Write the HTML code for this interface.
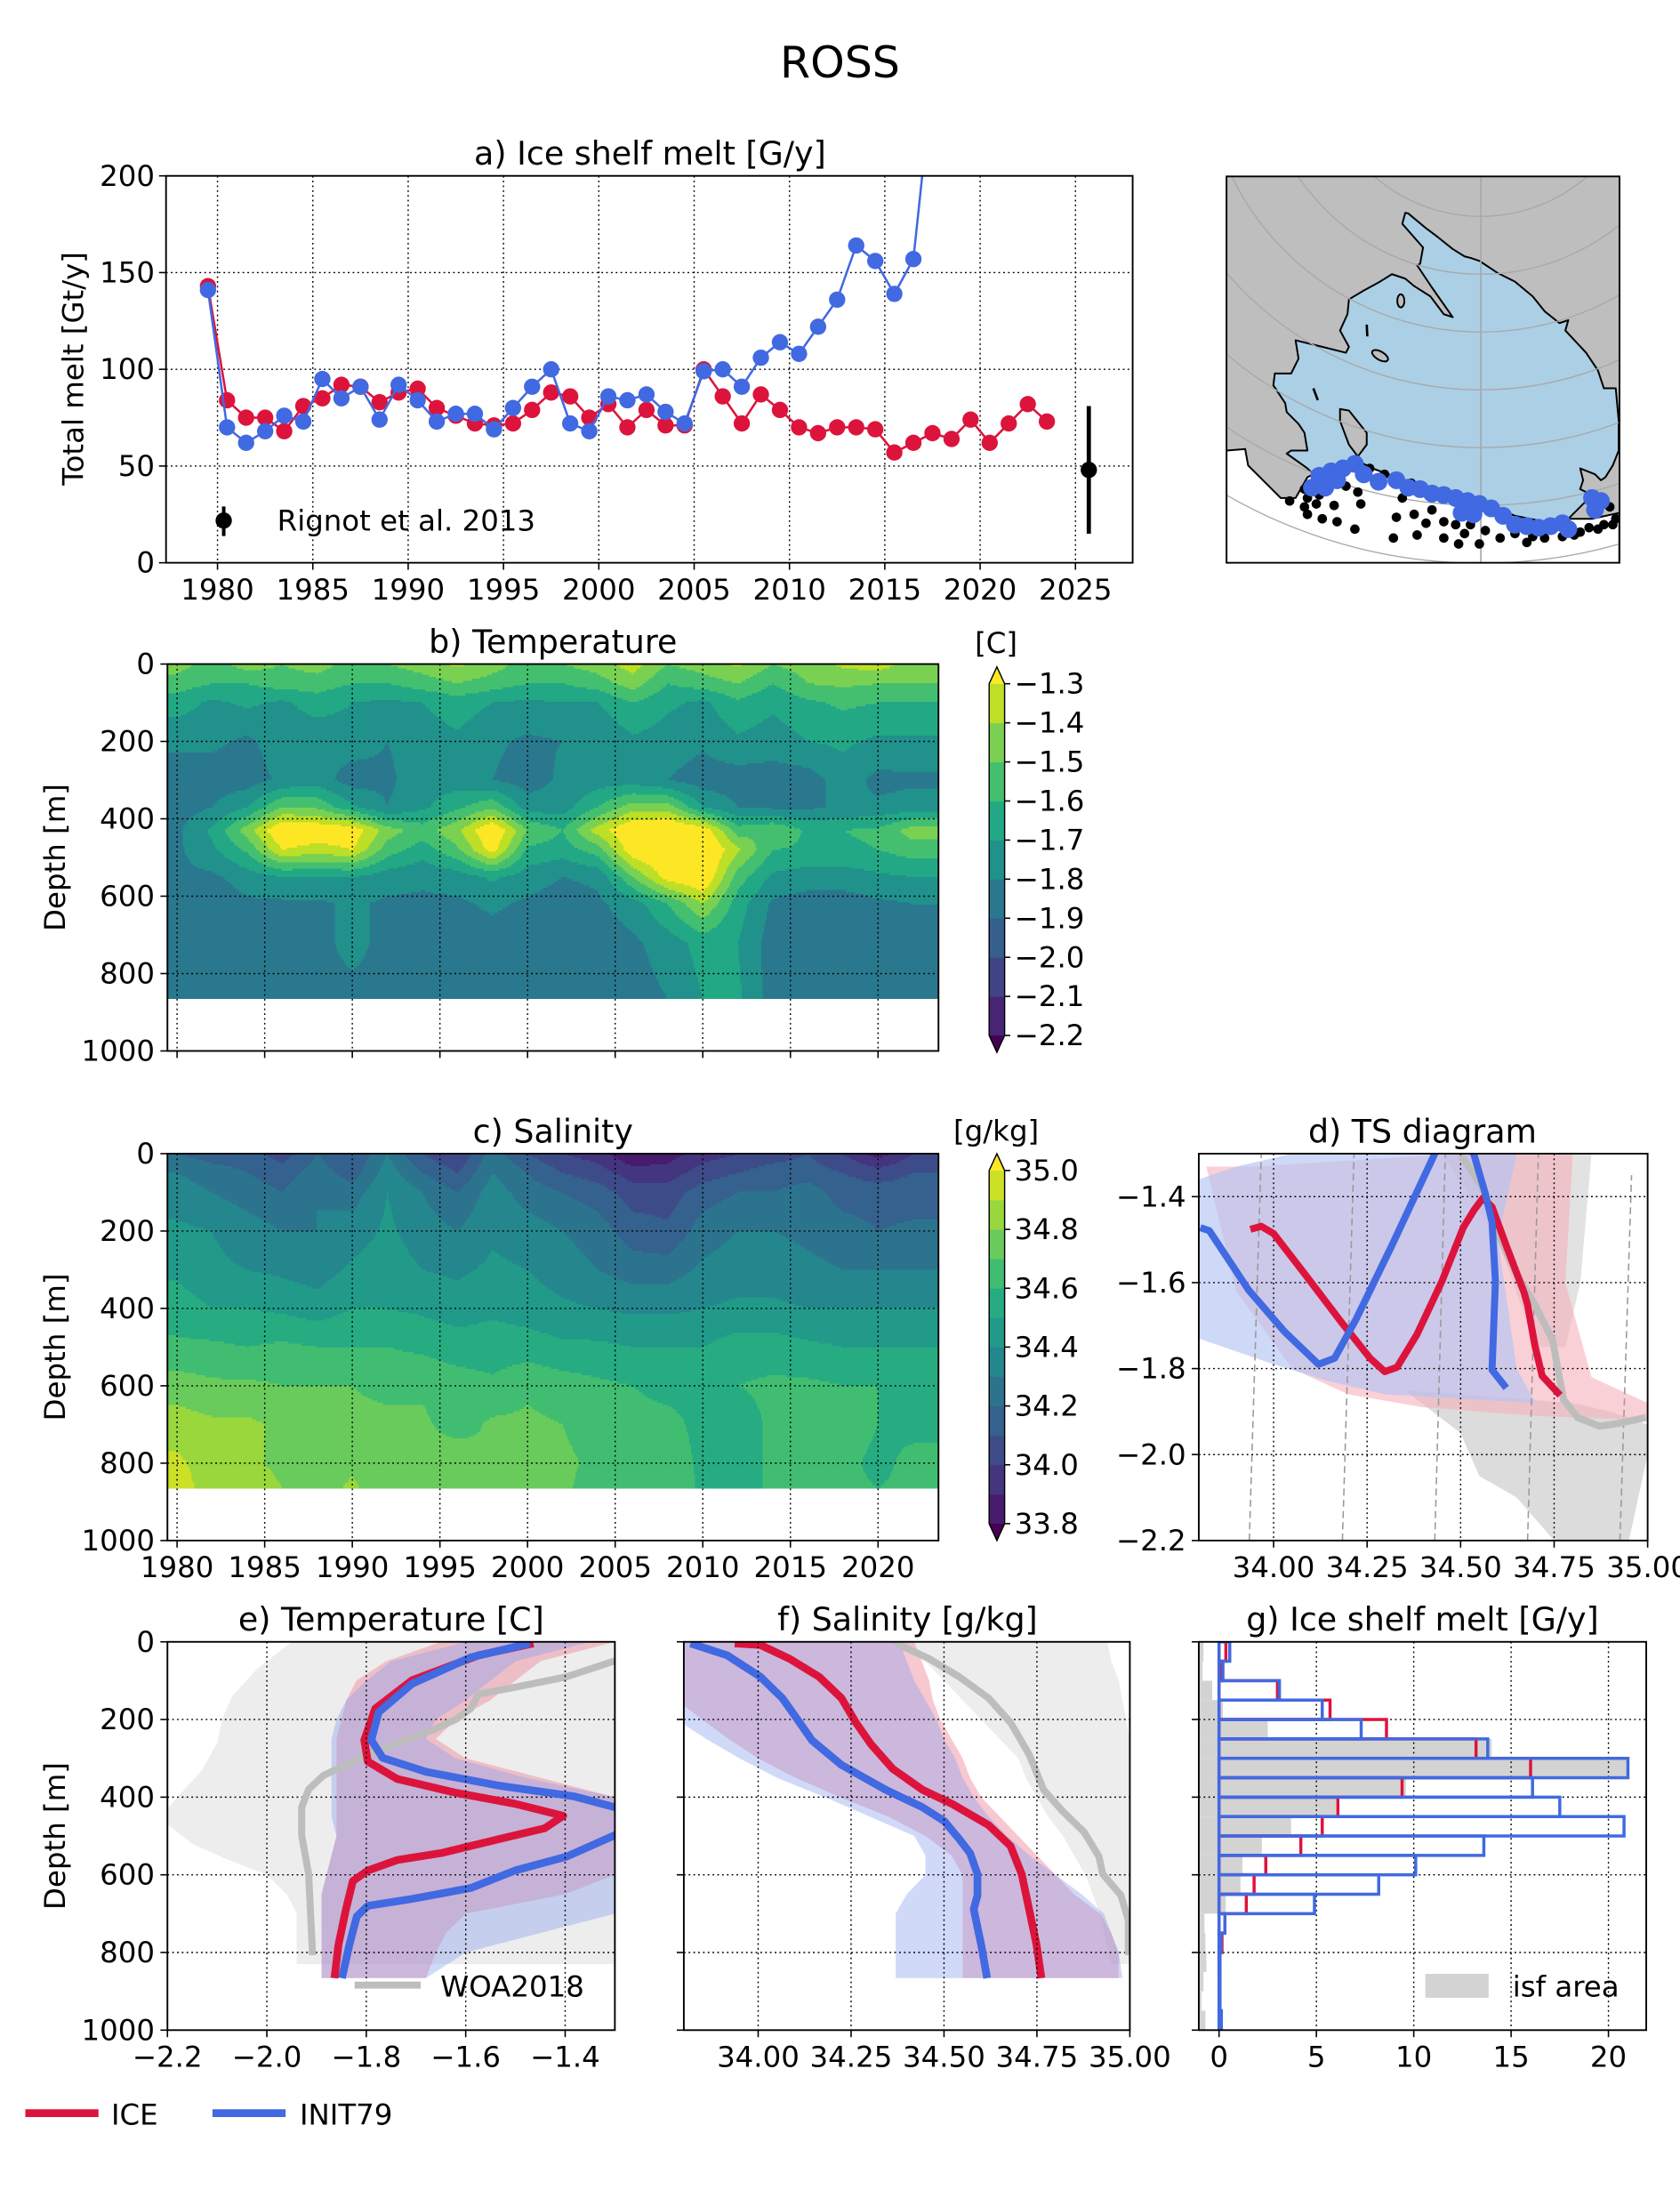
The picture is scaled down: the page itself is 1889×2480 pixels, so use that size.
<!DOCTYPE html>
<html><head><meta charset="utf-8"><title>ROSS</title>
<style>
html,body{margin:0;padding:0;background:#fff;}
svg{display:block;font-family:"DejaVu Sans","Liberation Sans",sans-serif;}
</style></head>
<body>
<svg id="fig" xmlns="http://www.w3.org/2000/svg" viewBox="0 0 1194 1568" width="1889" height="2480" preserveAspectRatio="none">
<rect x="0" y="0" width="1194" height="1568" fill="#fff"/>
<text x="597" y="55" font-size="31" text-anchor="middle">ROSS</text>
<defs>
<clipPath id="cpA"><rect x="118" y="125" width="687" height="275"/></clipPath>
<clipPath id="cpB"><rect x="119" y="472" width="548" height="275"/></clipPath>
<clipPath id="cpC"><rect x="119" y="820" width="548" height="275"/></clipPath>
<clipPath id="cpD"><rect x="852" y="820" width="319" height="275"/></clipPath>
<clipPath id="cpE"><rect x="119" y="1167" width="318" height="276"/></clipPath>
<clipPath id="cpF"><rect x="486" y="1167" width="317" height="276"/></clipPath>
<clipPath id="cpG"><rect x="852" y="1167" width="318" height="276"/></clipPath>
<clipPath id="cpM"><rect x="871.7" y="125.4" width="279.3" height="274.6"/></clipPath>
</defs>
</svg>
<script>
// ===== Panel a data =====
const meltYears = [1979.5,1980.5,1981.5,1982.5,1983.5,1984.5,1985.5,1986.5,1987.5,1988.5,1989.5,1990.5,1991.5,1992.5,1993.5,1994.5,1995.5,1996.5,1997.5,1998.5,1999.5,2000.5,2001.5,2002.5,2003.5,2004.5,2005.5,2006.5,2007.5,2008.5,2009.5,2010.5,2011.5,2012.5,2013.5,2014.5,2015.5,2016.5,2017.5,2018.5,2019.5,2020.5,2021.5,2022.5,2023.5];
const meltICE = [143,84,75,75,68,81,85,92,91,83,88,90,80,76,72,71,72,79,88,86,75,82,70,79,71,71,100,86,72,87,79,70,67,70,70,69,57,62,67,64,74,62,72,82,73];
const meltINIT79 = [141,70,62,68,76,73,95,85,91,74,92,84,73,77,77,69,80,91,100,72,68,86,84,87,78,72,99,100,91,106,114,108,122,136,164,156,139,157,250];
const rignotYear = 2025.7, rignotMelt = 48, rignotErr = 33;
const aYTicks = [0,50,100,150,200];
const aXTicks = [1980,1985,1990,1995,2000,2005,2010,2015,2020,2025];

// ===== Panel b/c data (Hovmoller) =====
const hovYears = [1980,1982,1984,1986,1988,1990,1992,1994,1996,1998,2000,2002,2004,2006,2008,2010,2012,2014,2016,2018,2020,2022];
const tempDepths = [0,50,100,200,300,370,430,480,550,620,720,866];
const tempVals = [
[-1.45,-1.55,-1.45,-1.5,-1.45,-1.55,-1.5,-1.45,-1.38,-1.45,-1.55,-1.5,-1.45,-1.35,-1.5,-1.45,-1.38,-1.5,-1.45,-1.38,-1.35,-1.45],
[-1.55,-1.6,-1.6,-1.55,-1.55,-1.6,-1.6,-1.55,-1.5,-1.55,-1.6,-1.6,-1.55,-1.45,-1.6,-1.55,-1.5,-1.6,-1.5,-1.48,-1.5,-1.5],
[-1.65,-1.72,-1.68,-1.72,-1.65,-1.7,-1.72,-1.7,-1.65,-1.7,-1.72,-1.7,-1.7,-1.6,-1.68,-1.72,-1.62,-1.68,-1.62,-1.58,-1.6,-1.6],
[-1.78,-1.78,-1.82,-1.75,-1.78,-1.75,-1.8,-1.75,-1.72,-1.78,-1.82,-1.8,-1.8,-1.72,-1.75,-1.78,-1.72,-1.75,-1.7,-1.68,-1.72,-1.72],
[-1.85,-1.85,-1.85,-1.78,-1.75,-1.85,-1.82,-1.75,-1.75,-1.8,-1.85,-1.78,-1.75,-1.75,-1.8,-1.85,-1.85,-1.85,-1.85,-1.75,-1.83,-1.82],
[-1.85,-1.8,-1.7,-1.5,-1.52,-1.68,-1.8,-1.72,-1.62,-1.52,-1.75,-1.75,-1.6,-1.45,-1.45,-1.7,-1.8,-1.82,-1.82,-1.78,-1.78,-1.75],
[-1.82,-1.68,-1.45,-1.18,-1.2,-1.22,-1.45,-1.55,-1.42,-1.18,-1.5,-1.6,-1.35,-1.18,-1.15,-1.22,-1.55,-1.5,-1.62,-1.6,-1.58,-1.45],
[-1.82,-1.72,-1.58,-1.3,-1.35,-1.3,-1.55,-1.65,-1.52,-1.25,-1.62,-1.65,-1.55,-1.22,-1.15,-1.15,-1.38,-1.6,-1.62,-1.62,-1.6,-1.55],
[-1.82,-1.82,-1.75,-1.7,-1.7,-1.7,-1.75,-1.78,-1.75,-1.68,-1.75,-1.8,-1.78,-1.5,-1.25,-1.18,-1.55,-1.72,-1.75,-1.75,-1.72,-1.7],
[-1.85,-1.88,-1.82,-1.82,-1.82,-1.78,-1.82,-1.82,-1.82,-1.78,-1.82,-1.85,-1.82,-1.75,-1.6,-1.4,-1.65,-1.82,-1.85,-1.85,-1.82,-1.8],
[-1.85,-1.85,-1.85,-1.85,-1.85,-1.75,-1.85,-1.85,-1.85,-1.85,-1.85,-1.85,-1.85,-1.82,-1.75,-1.66,-1.7,-1.85,-1.85,-1.85,-1.85,-1.85],
[-1.85,-1.85,-1.85,-1.85,-1.85,-1.85,-1.85,-1.85,-1.85,-1.85,-1.85,-1.85,-1.85,-1.85,-1.8,-1.7,-1.68,-1.85,-1.85,-1.85,-1.85,-1.85]
];
const saltDepths = [0,50,100,200,300,400,500,600,700,800,866];
const saltVals = [
[34.2,34.15,34.15,34.05,34.2,34.1,34.3,34.1,34.0,34.25,34.1,34.0,33.95,33.8,33.85,33.95,34.0,34.05,34.1,34.0,33.85,34.0],
[34.3,34.25,34.2,34.15,34.25,34.15,34.35,34.2,34.1,34.3,34.2,34.1,34.05,33.95,33.95,34.05,34.1,34.15,34.15,34.1,34.05,34.1],
[34.35,34.3,34.25,34.2,34.3,34.25,34.4,34.3,34.2,34.35,34.25,34.2,34.15,34.05,34.05,34.15,34.2,34.2,34.25,34.15,34.15,34.15],
[34.42,34.4,34.35,34.3,34.3,34.35,34.42,34.35,34.3,34.38,34.35,34.3,34.25,34.15,34.12,34.25,34.3,34.3,34.28,34.25,34.2,34.22],
[34.48,34.42,34.4,34.38,34.35,34.42,34.45,34.4,34.38,34.42,34.4,34.35,34.3,34.25,34.25,34.32,34.35,34.35,34.32,34.3,34.3,34.3],
[34.55,34.5,34.5,34.48,34.45,34.5,34.5,34.48,34.45,34.48,34.45,34.42,34.4,34.38,34.38,34.4,34.42,34.42,34.4,34.4,34.4,34.4],
[34.62,34.62,34.6,34.62,34.6,34.6,34.6,34.58,34.55,34.55,34.55,34.52,34.52,34.5,34.5,34.5,34.55,34.55,34.52,34.5,34.5,34.5],
[34.75,34.72,34.72,34.7,34.7,34.7,34.68,34.68,34.65,34.62,34.68,34.65,34.62,34.6,34.58,34.58,34.6,34.62,34.62,34.6,34.6,34.58],
[34.85,34.82,34.82,34.78,34.72,34.72,34.72,34.72,34.65,34.72,34.72,34.7,34.65,34.62,34.62,34.58,34.55,34.62,34.65,34.65,34.6,34.58],
[34.92,34.85,34.82,34.78,34.75,34.78,34.72,34.75,34.78,34.7,34.72,34.72,34.68,34.65,34.65,34.58,34.55,34.62,34.65,34.62,34.58,34.62],
[34.95,34.85,34.85,34.8,34.75,34.82,34.72,34.8,34.8,34.72,34.75,34.72,34.65,34.68,34.68,34.58,34.55,34.62,34.65,34.62,34.6,34.62]
];
const tempLevelsMin = -2.2, tempLevelStep = 0.1, tempNBins = 9;
const saltLevelsMin = 33.8, saltLevelStep = 0.1, saltNBins = 12;
const tempCbarLabels = ["−1.3","−1.4","−1.5","−1.6","−1.7","−1.8","−1.9","−2.0","−2.1","−2.2"];
const saltCbarLabels = ["35.0","34.8","34.6","34.4","34.2","34.0","33.8"];
const depthTicks = [0,200,400,600,800,1000];
const hovXTicks = [1980,1985,1990,1995,2000,2005,2010,2015,2020];

// ===== Panel d data (TS) =====
const tsIceS = [33.938,33.967,34.0,34.086,34.182,34.258,34.297,34.33,34.383,34.45,34.507,34.536,34.56,34.584,34.622,34.67,34.679,34.699,34.718,34.766];
const tsIceT = [-1.476,-1.469,-1.486,-1.583,-1.693,-1.776,-1.807,-1.797,-1.721,-1.597,-1.472,-1.431,-1.403,-1.424,-1.514,-1.624,-1.652,-1.748,-1.817,-1.862];
const tsInitS = [33.804,33.828,33.933,34.029,34.12,34.163,34.22,34.316,34.431,34.47,34.536,34.565,34.584,34.593,34.584,34.622];
const tsInitT = [-1.472,-1.479,-1.617,-1.714,-1.79,-1.776,-1.686,-1.514,-1.3,-1.2,-1.303,-1.39,-1.459,-1.597,-1.803,-1.845];
const tsWoaS = [34.502,34.565,34.603,34.651,34.699,34.746,34.775,34.813,34.871,34.919,34.995];
const tsWoaT = [-1.303,-1.39,-1.493,-1.583,-1.652,-1.734,-1.872,-1.914,-1.934,-1.928,-1.914];
const isoBottomS = [33.935,34.184,34.431,34.679,34.926];
const isoTopS = [33.967,34.215,34.459,34.708,34.957];
const isoTopT = [-1.3,-1.3,-1.3,-1.3,-1.35];
const cloudGrayS = [34.35,34.5,34.55,34.65,34.75,34.95,35.0,35.0,34.9,34.8];
const cloudGrayT = [-1.85,-1.95,-2.05,-2.1,-2.2,-2.2,-2.0,-1.93,-1.9,-1.88];
const cloudGrayTopS = [34.45,34.85,34.82,34.78,34.7,34.6];
const cloudGrayTopT = [-1.3,-1.3,-1.6,-1.75,-1.75,-1.5];
const cloudPinkS = [33.82,33.95,34.5,34.8,34.78,34.85,35.0,35.0,34.7,34.4,34.2,34.05,33.9];
const cloudPinkT = [-1.33,-1.33,-1.3,-1.3,-1.6,-1.82,-1.88,-1.92,-1.91,-1.89,-1.86,-1.8,-1.62];
const cloudBlueS = [33.8,33.9,34.05,34.65,34.6,34.65,34.7,34.5,34.3,34.15,34.0,33.8];
const cloudBlueT = [-1.36,-1.33,-1.3,-1.3,-1.5,-1.8,-1.88,-1.87,-1.86,-1.83,-1.79,-1.73];
const dXTicks = [34.0,34.25,34.5,34.75,35.0];
const dXLabels = ["34.00","34.25","34.50","34.75","35.00"];
const dYTicks = [-1.4,-1.6,-1.8,-2.0,-2.2];

// ===== Panel e data =====
const eIceT = [-1.464,-1.575,-1.708,-1.782,-1.804,-1.797,-1.738,-1.619,-1.501,-1.404,-1.441,-1.530,-1.649,-1.738,-1.797,-1.827,-1.841,-1.856,-1.864];
const eIceD = [4,35,99,172,253,308,353,389,417,448,480,507,544,562,589,616,689,780,866];
const eInitT = [-1.471,-1.590,-1.708,-1.775,-1.790,-1.767,-1.679,-1.530,-1.382,-1.30,-1.2,-1.22,-1.30,-1.397,-1.501,-1.590,-1.708,-1.797,-1.819,-1.834,-1.849];
const eInitD = [4,40,108,181,253,299,335,371,398,426,455,475,498,553,589,634,662,680,707,780,866];
const eWoaT = [-1.2,-1.30,-1.397,-1.501,-1.575,-1.590,-1.619,-1.664,-1.738,-1.812,-1.886,-1.916,-1.930,-1.930,-1.916,-1.908];
const eWoaD = [0,49,90,117,135,172,199,226,262,299,344,380,426,498,598,807];
const bandDepths = [0,50,100,150,200,250,300,350,400,450,500,550,600,650,700,750,800,866];
const eIceMin = [-1.65,-1.76,-1.82,-1.84,-1.85,-1.86,-1.86,-1.86,-1.86,-1.86,-1.86,-1.87,-1.88,-1.89,-1.89,-1.89,-1.89,-1.89];
const eIceMax = [-1.3,-1.45,-1.5,-1.55,-1.62,-1.66,-1.6,-1.45,-1.3,-1.3,-1.3,-1.3,-1.3,-1.4,-1.6,-1.64,-1.66,-1.68];
const eInitMin = [-1.6,-1.75,-1.8,-1.84,-1.86,-1.87,-1.87,-1.87,-1.87,-1.87,-1.86,-1.87,-1.88,-1.89,-1.89,-1.89,-1.89,-1.89];
const eInitMax = [-1.35,-1.5,-1.55,-1.6,-1.66,-1.68,-1.62,-1.48,-1.3,-1.3,-1.3,-1.3,-1.3,-1.3,-1.3,-1.45,-1.6,-1.68];
const eWoaBandDepths = [0,70,140,200,260,330,400,430,470,520,560,600,650,700,760,830];
const eWoaBandMin = [-1.95,-2.02,-2.07,-2.09,-2.1,-2.13,-2.18,-2.2,-2.2,-2.15,-2.08,-2.0,-1.96,-1.94,-1.94,-1.94];
const eXTicks = [-2.2,-2.0,-1.8,-1.6,-1.4];
const eXLabels = ["−2.2","−2.0","−1.8","−1.6","−1.4"];

// ===== Panel f data =====
const fIceS = [33.937,34.006,34.085,34.164,34.224,34.263,34.303,34.362,34.442,34.521,34.620,34.679,34.709,34.729,34.749,34.762];
const fIceD = [4,8,44,90,145,208,263,327,381,417,472,526,598,689,780,866];
const fInitS = [33.818,33.917,34.006,34.065,34.105,34.145,34.224,34.343,34.442,34.501,34.541,34.570,34.590,34.590,34.580,34.600,34.616];
const fInitD = [4,35,90,145,199,254,317,381,426,462,508,544,598,653,689,780,866];
const fWoaS = [34.372,34.461,34.541,34.620,34.679,34.729,34.768,34.818,34.877,34.917,34.927,34.976,34.996,34.996];
const fWoaD = [4,44,90,145,208,290,381,435,490,553,598,653,717,807];
const fIceMin = [33.7,33.7,33.7,33.78,33.85,33.92,34.0,34.1,34.22,34.35,34.45,34.52,34.55,34.55,34.55,34.55,34.55,34.55];
const fIceMax = [34.42,34.44,34.46,34.47,34.49,34.52,34.55,34.57,34.6,34.65,34.7,34.75,34.8,34.85,34.92,34.95,34.97,34.97];
const fInitMin = [33.7,33.7,33.7,33.72,33.78,33.86,33.95,34.05,34.18,34.3,34.42,34.45,34.45,34.4,34.37,34.37,34.37,34.37];
const fInitMax = [34.38,34.4,34.42,34.45,34.48,34.5,34.53,34.55,34.58,34.62,34.67,34.73,34.8,34.87,34.93,34.95,34.97,34.98];
const fWoaBandDepths = [0,50,100,150,200,250,300,350,400,450,500,550,600,650,700,750,830];
const fWoaBandMin = [34.35,34.45,34.5,34.55,34.6,34.65,34.7,34.72,34.75,34.78,34.82,34.85,34.88,34.9,34.92,34.93,34.95];
const fWoaBandMax = [34.94,34.95,34.97,34.98,34.99,35.0,35.0,35.0,35.0,35.0,35.0,35.0,35.0,35.0,35.0,35.0,35.0];

// ===== Panel g data =====
const gBinEdges = [0,50,100,150,200,250,300,350,400,450,500,550,600,650,700,750,800,850,900,950,1000];
const gInit = [0.55,0.2,3.1,5.3,7.3,13.8,21.0,16.1,17.5,20.8,13.6,10.1,8.2,4.9,0.3,0.1,0.05,0.05,0.05,0.12];
const gIce = [0.35,0.1,3.0,5.7,8.6,13.2,16.0,9.4,6.1,5.3,4.2,2.4,1.8,1.4,0.3,0.15,0.05,0.0,0.0,0.0];
const gArea = [-0.8,-0.85,-0.35,0.2,2.5,14.0,21.0,9.6,6.0,3.7,2.2,1.2,1.1,0.35,-0.75,-0.7,-0.65,-0.8,-0.9,-0.7];
const gXTicks = [0,5,10,15,20];

// ===== Map data (in map-local coords) =====
const shelfX = [630,620,690,680,670,690,720,790,760,715,660,630,585,545,490,440,435,410,440,430,330,260,270,245,190,185,225,230,270,290,300,245,230,300,320,400,470,520,600,700,800,900,1000,1100,1180,1200,1260,1220,1230,1220,1270,1290,1305,1330,1350,1350,1340,1300,1280,1240,1170,1180,1150,1100,1060,1000,940,880,850,830,790,740,700,640];
const shelfY = [148,185,265,320,325,355,400,500,490,430,395,370,355,380,410,440,490,545,600,620,595,578,640,690,690,730,790,820,860,890,950,950,960,1010,1030,1000,985,1010,1040,1080,1100,1130,1170,1190,1180,1160,1100,1080,1050,1010,1030,1050,1040,1000,950,850,740,740,680,620,545,510,520,480,430,380,350,310,300,295,270,230,200,150];
const islandX = [410,440,500,500,470,440,410];
const islandY = [810,815,890,930,970,930,850];
const oceanX = [27,90,100,160,210,260,300,320,400,470,520,600,700,800,900,1000,1100,1180,1260,1352,1352,27];
const oceanY = [950,945,1000,1060,1110,1110,1040,1030,1000,985,1010,1040,1080,1100,1130,1170,1190,1180,1180,1160,1330,1330];
const latRadii = [545,740,935,1130,1325,1520,1715];
const blueDotX = [315,340,380,420,460,490,540,600,640,680,720,760,800,840,880,920,960,1000,1040,1080,1120,1160,1180,1260,1290,1270,360,400,820,860];
const blueDotY = [1075,1035,1020,1010,995,1030,1055,1050,1075,1080,1095,1100,1110,1120,1130,1145,1170,1200,1205,1210,1205,1195,1215,1110,1120,1150,1075,1050,1160,1165];
const blackDotX = [290,300,340,290,330,390,480,350,400,460,600,660,700,590,670,760,810,880,830,900,720,760,800,850,1000,1040,1100,1160,1200,1250,1300,1340,1320,430,470,510,560,650,620,240,300,1220,1280,1330,950,1060];
const blackDotY = [1080,1110,1100,1140,1130,1135,1130,1180,1190,1215,1175,1165,1195,1245,1235,1245,1265,1265,1230,1220,1150,1190,1200,1200,1230,1260,1245,1240,1235,1210,1200,1180,1140,1070,1090,1010,1030,1060,1110,1120,1165,1225,1215,1200,1245,1240];

// ================== rendering ==================
const NS = 'http://www.w3.org/2000/svg';
const svg = document.getElementById('fig');
function mk(tag, attrs, parent){
  const e = document.createElementNS(NS, tag);
  for (const k in attrs) e.setAttribute(k, attrs[k]);
  (parent || svg).appendChild(e);
  return e;
}
function txt(x, y, s, size, anchor, parent, extra){
  const a = {x:x, y:y, 'font-size':size, 'text-anchor':anchor||'middle', fill:'#000'};
  if (extra) for (const k in extra) a[k] = extra[k];
  const t = mk('text', a, parent);
  t.textContent = s;
  return t;
}
function lin(d0, d1, r0, r1){ return v => r0 + (v - d0) / (d1 - d0) * (r1 - r0); }
const viridisAnchors = ['#440154','#482475','#414487','#355f8d','#2a788e','#21918c','#22a884','#44bf70','#7ad151','#bddf26','#fde725'];
function hex2rgb(h){ return [parseInt(h.substr(1,2),16),parseInt(h.substr(3,2),16),parseInt(h.substr(5,2),16)]; }
function viridis(t){
  t = Math.max(0, Math.min(1, t));
  const f = t * 10, i = Math.min(9, Math.floor(f)), u = f - i;
  const a = hex2rgb(viridisAnchors[i]), b = hex2rgb(viridisAnchors[i+1]);
  const c = a.map((v, k) => Math.round(v + (b[k] - v) * u));
  return 'rgb(' + c.join(',') + ')';
}
function binColor(v, vmin, step, nb){
  let k = Math.floor((v - vmin) / step + 1e-9);
  if (k < 0) return viridis(0);
  if (k >= nb) return viridis(1);
  return viridis((k + 1) / (nb + 1));
}
function interp1(xs, ys, x){
  if (x <= xs[0]) return ys[0];
  if (x >= xs[xs.length-1]) return ys[ys.length-1];
  let i = 0; while (xs[i+1] < x) i++;
  const u = (x - xs[i]) / (xs[i+1] - xs[i]);
  return ys[i] + (ys[i+1] - ys[i]) * u;
}
function poly(xs, ys){ return xs.map((x, i) => x.toFixed(2) + ',' + ys[i].toFixed(2)).join(' '); }
function gridLineX(g, x, y0, y1){ return mk('line', {x1:x, x2:x, y1:y0, y2:y1, stroke:'#000', 'stroke-width':0.9, 'stroke-dasharray':'1.2,2.2'}, g); }
function gridLineY(g, y, x0, x1){ return mk('line', {x1:x0, x2:x1, y1:y, y2:y, stroke:'#000', 'stroke-width':0.9, 'stroke-dasharray':'1.2,2.2'}, g); }
function frame(g, x0, y0, x1, y1){ return mk('rect', {x:x0, y:y0, width:x1-x0, height:y1-y0, fill:'none', stroke:'#000', 'stroke-width':1.2}, g); }
function tickX(g, x, y){ return mk('line', {x1:x, x2:x, y1:y, y2:y+5, stroke:'#000', 'stroke-width':1}, g); }
function tickY(g, x, y){ return mk('line', {x1:x-5, x2:x, y1:y, y2:y, stroke:'#000', 'stroke-width':1}, g); }
const FS = 20.5;
const TS = 23;

// ---------- Panel a ----------
(function(){
  const g = mk('g', {});
  
  
  const X = lin(1977.3, 2028.0, 118, 805), Y = lin(0, 200, 400, 125);
  aXTicks.forEach(v => {
    const l = gridLineX(g, X(v), 125, 400);
    
    
    const tk = tickX(g, X(v), 400);
    
    
    const t = txt(X(v), 426, String(v), FS, 'middle', g);
    
    
  });
  aYTicks.forEach(v => {
    const l = gridLineY(g, Y(v), 118, 805);
    
    
    const tk = tickY(g, 118, Y(v));
    
    
    const t = txt(110, Y(v) + 7, String(v), FS, 'end', g);
    
    
  });
  const cg = mk('g', {'clip-path':'url(#cpA)'}, g);
  
  
  [[meltICE, '#dc143c', 'ice'], [meltINIT79, '#4169e1', 'init79']].forEach(([vals, col, nm]) => {
    const xs = vals.map((v, i) => X(meltYears[i])), ys = vals.map(v => Y(v));
    const pl = mk('polyline', {points: poly(xs, ys), fill:'none', stroke:col, 'stroke-width':1.6}, cg);
    
    
    vals.forEach((v, i) => {
      const c = mk('circle', {cx:X(meltYears[i]), cy:Y(v), r:5.8, fill:col}, cg);
      
      
    });
  });
  const eb = mk('line', {x1:X(rignotYear), x2:X(rignotYear), y1:Y(rignotMelt - rignotErr), y2:Y(rignotMelt + rignotErr), stroke:'#000', 'stroke-width':3}, cg);
  
  
  const ed = mk('circle', {cx:X(rignotYear), cy:Y(rignotMelt), r:5.8, fill:'#000'}, cg);
  
  
  const lg = mk('g', {}, g);
  
  
  mk('line', {x1:159, x2:159, y1:360, y2:381, stroke:'#000', 'stroke-width':2.5}, lg);
  mk('circle', {cx:159, cy:370, r:5.8, fill:'#000'}, lg);
  txt(197, 377, 'Rignot et al. 2013', FS, 'start', lg);
  const fr = frame(g, 118, 125, 805, 400);
  
  
  const tt = txt(462, 117, 'a) Ice shelf melt [G/y]', TS, 'middle', g);
  
  
  const yl = txt(0, 0, 'Total melt [Gt/y]', FS, 'middle', g, {transform:'translate(59,262) rotate(-90)'});
  
  
})();

// ---------- Map ----------
(function(){
  const g = mk('g', {'clip-path':'url(#cpM)'});
  
  
  const m = mk('g', {transform:'translate(866,120.1) scale(0.2107)'}, g);
  const bg = mk('rect', {x:0, y:0, width:1400, height:1400, fill:'#bebebe'}, m);
  
  
  const oc = mk('polygon', {points: poly(oceanX, oceanY), fill:'#fff', stroke:'#000', 'stroke-width':6}, m);
  
  
  const sh = mk('polygon', {points: poly(shelfX, shelfY), fill:'#abcfe5', stroke:'#000', 'stroke-width':6, 'stroke-linejoin':'round'}, m);
  
  
  const isl = mk('polygon', {points: poly(islandX, islandY), fill:'#bebebe', stroke:'#000', 'stroke-width':6}, m);
  
  
  const e1 = mk('ellipse', {cx:615, cy:445, rx:12, ry:22, fill:'#bebebe', stroke:'#000', 'stroke-width':6}, m);
  
  
  const e2 = mk('ellipse', {cx:545, cy:630, rx:30, ry:14, transform:'rotate(30 545 630)', fill:'#bebebe', stroke:'#000', 'stroke-width':6}, m);
  
  
  const l1 = mk('line', {x1:500, y1:525, x2:502, y2:565, stroke:'#000', 'stroke-width':8}, m);
  
  
  const l2 = mk('line', {x1:320, y1:740, x2:335, y2:780, stroke:'#000', 'stroke-width':8}, m);
  
  
  latRadii.forEach(r => {
    const c = mk('circle', {cx:885, cy:-385, r:r, fill:'none', stroke:'#a8a8a8', 'stroke-width':4}, m);
    
    
  });
  const mer = mk('line', {x1:885, x2:885, y1:0, y2:1400, stroke:'#a8a8a8', 'stroke-width':5}, m);
  
  
  blackDotX.forEach((x, i) => {
    const c = mk('circle', {cx:x, cy:blackDotY[i], r:16, fill:'#000'}, m);
    
    
  });
  blueDotX.forEach((x, i) => {
    const c = mk('circle', {cx:x, cy:blueDotY[i], r:30, fill:'#4169e1'}, m);
    
    
  });
  const fr = frame(svg, 871.7, 125.4, 1151, 400);
  
  
})();

// ---------- Panels b & c ----------
function hovmoller(name, clip, y0, y1, depths, vals, vmin, step, nb){
  const g = mk('g', {});
  
  
  const x0 = 119, x1 = 667;
  const X = lin(1979.45, 2023.45, x0, x1), D = lin(0, 1000, y0, y1);
  const cg = mk('g', {'clip-path':'url(#' + clip + ')', 'shape-rendering':'crispEdges'}, g);
  
  
  const yEnd = D(depths[depths.length-1]);
  const dy = 1.5;
  for (let py = y0; py < yEnd; py += dy) {
    const d = (py + dy/2 - y0) / (y1 - y0) * 1000;
    const rowVals = hovYears.map((_, j) => interp1(depths, vals.map(r => r[j]), d));
    let runStart = x0, runCol = null;
    for (let px = x0; px <= x1; px += 1) {
      const yr = 1979.45 + (px + 0.5 - x0) / (x1 - x0) * 44;
      const v = interp1(hovYears, rowVals, yr);
      const col = px < x1 ? binColor(v, vmin, step, nb) : null;
      if (col !== runCol) {
        if (runCol !== null) {
          const r = mk('rect', {x:runStart, y:py, width:px - runStart, height:Math.min(dy + 0.3, yEnd - py), fill:runCol}, cg);
          
          
        }
        runStart = px; runCol = col;
      }
    }
  }
  hovXTicks.forEach(v => {
    const l = gridLineX(g, X(v), y0, y1);
    
    
    const tk = tickX(g, X(v), y1);
    
    
  });
  depthTicks.forEach(v => {
    if (v > 0 && v < 1000) {
      const l = gridLineY(g, D(v), x0, x1);
      
      
    }
    const tk = tickY(g, x0, D(v));
    
    
    const t = txt(110, D(v) + 7, String(v), FS, 'end', g);
    
    
  });
  const fr = frame(g, x0, y0, x1, y1);
  
  
  const yl = txt(0, 0, 'Depth [m]', FS, 'middle', g, {transform:'translate(46,' + ((y0 + y1)/2) + ') rotate(-90)'});
  
  
  return {g:g, X:X};
}
function colorbar(name, yTop, yBot, nb, labels, labelStep){
  const g = mk('g', {});
  
  
  const x0 = 703, x1 = 714, h = (yBot - yTop) / nb;
  for (let k = 0; k < nb; k++) {
    const r = mk('rect', {x:x0, y:yBot - (k+1)*h, width:x1 - x0, height:h + 0.3, fill:viridis((k+1)/(nb+1))}, g);
    
    
  }
  const tt = mk('polygon', {points: x0+','+yTop+' '+x1+','+yTop+' '+((x0+x1)/2)+','+(yTop-12), fill:viridis(1)}, g);
  
  
  const tb = mk('polygon', {points: x0+','+yBot+' '+x1+','+yBot+' '+((x0+x1)/2)+','+(yBot+12), fill:viridis(0)}, g);
  
  
  const ol = mk('polygon', {points: ((x0+x1)/2)+','+(yTop-12)+' '+x1+','+yTop+' '+x1+','+yBot+' '+((x0+x1)/2)+','+(yBot+12)+' '+x0+','+yBot+' '+x0+','+yTop, fill:'none', stroke:'#000', 'stroke-width':0.9}, g);
  
  
  labels.forEach((s, i) => {
    const y = yTop + i * labelStep * h;
    const tk = mk('line', {x1:x1, x2:x1 + 4, y1:y, y2:y, stroke:'#000', 'stroke-width':1}, g);
    
    
    const t = txt(721, y + 7, s, FS, 'start', g);
    
    
  });
}
(function(){
  const b = hovmoller('panel-b-temperature', 'cpB', 472, 747, tempDepths, tempVals, tempLevelsMin, tempLevelStep, tempNBins);
  const t = txt(393, 464, 'b) Temperature', TS, 'middle', b.g);
  
  
  colorbar('temperature-colorbar', 486, 736, tempNBins, tempCbarLabels, 1);
  const u = txt(708, 464, '[C]', FS, 'middle');
  
  
  const c = hovmoller('panel-c-salinity', 'cpC', 820, 1095, saltDepths, saltVals, saltLevelsMin, saltLevelStep, saltNBins);
  const t2 = txt(393, 812, 'c) Salinity', TS, 'middle', c.g);
  
  
  hovXTicks.forEach(v => {
    const l = txt(c.X(v), 1121, String(v), FS, 'middle', c.g);
    
    
  });
  colorbar('salinity-colorbar', 832, 1083, saltNBins, saltCbarLabels, 2);
  const u2 = txt(708, 811, '[g/kg]', FS, 'middle');
  
  
})();

// ---------- Panel d ----------
(function(){
  const g = mk('g', {});
  
  
  const X = lin(33.8, 35.0, 852, 1171), Y = lin(-2.2, -1.3, 1095, 820);
  const cg = mk('g', {'clip-path':'url(#cpD)'}, g);
  
  
  const c1 = mk('polygon', {points: poly(cloudGrayS.map(X), cloudGrayT.map(Y)), fill:'#dcdcdc'}, cg);
  
  
  const c2 = mk('polygon', {points: poly(cloudGrayTopS.map(X), cloudGrayTopT.map(Y)), fill:'#e2e2e2'}, cg);
  
  
  const c3 = mk('polygon', {points: poly(cloudPinkS.map(X), cloudPinkT.map(Y)), fill:'#f6b0bd', opacity:0.6}, cg);
  
  
  const c4 = mk('polygon', {points: poly(cloudBlueS.map(X), cloudBlueT.map(Y)), fill:'#b4c3f2', opacity:0.65}, cg);
  
  
  isoBottomS.forEach((s, i) => {
    const l = mk('line', {x1:X(s), y1:Y(-2.2), x2:X(isoTopS[i]), y2:Y(isoTopT[i]), stroke:'#9a9a9a', 'stroke-width':1, 'stroke-dasharray':'5,3'}, cg);
    
    
  });
  dXTicks.forEach((v, i) => {
    if (v < 35) {
      const l = gridLineX(cg, X(v), 820, 1095);
      
      
    }
    const tk = tickX(g, X(v), 1095);
    
    
    const t = txt(X(v), 1121, dXLabels[i], FS, 'middle', g);
    
    
  });
  dYTicks.forEach(v => {
    const l = gridLineY(cg, Y(v), 852, 1171);
    
    
    const tk = tickY(g, 852, Y(v));
    
    
    const t = txt(843, Y(v) + 7, '−' + Math.abs(v).toFixed(1), FS, 'end', g);
    
    
  });
  const w = mk('polyline', {points: poly(tsWoaS.map(X), tsWoaT.map(Y)), fill:'none', stroke:'#bdbdbd', 'stroke-width':5, 'stroke-linejoin':'round'}, cg);
  
  
  const r = mk('polyline', {points: poly(tsIceS.map(X), tsIceT.map(Y)), fill:'none', stroke:'#dc143c', 'stroke-width':5, 'stroke-linejoin':'round'}, cg);
  
  
  const b = mk('polyline', {points: poly(tsInitS.map(X), tsInitT.map(Y)), fill:'none', stroke:'#4169e1', 'stroke-width':5, 'stroke-linejoin':'round'}, cg);
  
  
  const fr = frame(g, 852, 820, 1171, 1095);
  
  
  const t = txt(1011, 812, 'd) TS diagram', TS, 'middle', g);
  
  
})();

// ---------- Panels e & f ----------
function profilePanel(name, clip, x0, x1, vmin, vmax, iceV, iceD, initV, initD, woaV, woaD, iMin, iMax, nMin, nMax, wD, wMin, wMax){
  const g = mk('g', {});
  
  
  const X = lin(vmin, vmax, x0, x1), D = lin(0, 1000, 1167, 1443);
  const cg = mk('g', {'clip-path':'url(#' + clip + ')'}, g);
  
  
  const wx = wMin.map(X).concat(wMax.map(X).reverse()), wy = wD.map(D).concat(wD.map(D).reverse());
  const wb = mk('polygon', {points: poly(wx, wy), fill:'#bdbdbd', opacity:0.28}, cg);
  
  
  const ix = iMin.map(X).concat(iMax.map(X).reverse()), iy = bandDepths.map(D).concat(bandDepths.map(D).reverse());
  const ib = mk('polygon', {points: poly(ix, iy), fill:'#f08497', opacity:0.45}, cg);
  
  
  const nx = nMin.map(X).concat(nMax.map(X).reverse());
  const nb = mk('polygon', {points: poly(nx, iy), fill:'#8aa0ee', opacity:0.4}, cg);
  
  
  [200,400,600,800].forEach(v => {
    const l = gridLineY(cg, D(v), x0, x1);
    
    
  });
  const wl = mk('polyline', {points: poly(woaV.map(X), woaD.map(D)), fill:'none', stroke:'#bdbdbd', 'stroke-width':5, 'stroke-linejoin':'round'}, cg);
  
  
  const rl = mk('polyline', {points: poly(iceV.map(X), iceD.map(D)), fill:'none', stroke:'#dc143c', 'stroke-width':5.5, 'stroke-linejoin':'round'}, cg);
  
  
  const bl = mk('polyline', {points: poly(initV.map(X), initD.map(D)), fill:'none', stroke:'#4169e1', 'stroke-width':5.5, 'stroke-linejoin':'round'}, cg);
  
  
  depthTicks.forEach(v => {
    const tk = tickY(g, x0, D(v));
    
    
  });
  const fr = frame(g, x0, 1167, x1, 1443);
  
  
  return {g:g, X:X, D:D, cg:cg};
}
(function(){
  const e = profilePanel('panel-e-temperature-profile', 'cpE', 119, 437, -2.2, -1.3, eIceT, eIceD, eInitT, eInitD, eWoaT, eWoaD, eIceMin, eIceMax, eInitMin, eInitMax, eWoaBandDepths, eWoaBandMin, eWoaBandDepths.map(() => -1.3));
  eXTicks.forEach((v, i) => {
    const l = gridLineX(e.cg, e.X(v), 1167, 1443);
    
    
    const tk = tickX(e.g, e.X(v), 1443);
    
    
    const t = txt(e.X(v), 1469, eXLabels[i], FS, 'middle', e.g);
    
    
  });
  depthTicks.forEach(v => {
    const t = txt(110, e.D(v) + 7, String(v), FS, 'end', e.g);
    
    
  });
  const yl = txt(0, 0, 'Depth [m]', FS, 'middle', e.g, {transform:'translate(46,1305) rotate(-90)'});
  
  
  const tt = txt(278, 1159, 'e) Temperature [C]', TS, 'middle', e.g);
  
  
  const lg = mk('g', {}, e.g);
  
  
  mk('line', {x1:252, x2:299, y1:1411, y2:1411, stroke:'#bdbdbd', 'stroke-width':5}, lg);
  txt(313, 1419, 'WOA2018', FS, 'start', lg);

  const f = profilePanel('panel-f-salinity-profile', 'cpF', 486, 803, 33.8, 35.0, fIceS, fIceD, fInitS, fInitD, fWoaS, fWoaD, fIceMin, fIceMax, fInitMin, fInitMax, fWoaBandDepths, fWoaBandMin, fWoaBandMax);
  dXTicks.forEach((v, i) => {
    if (v < 35) {
      const l = gridLineX(f.cg, f.X(v), 1167, 1443);
      
      
    }
    const tk = tickX(f.g, f.X(v), 1443);
    
    
    const t = txt(f.X(v), 1469, dXLabels[i], FS, 'middle', f.g);
    
    
  });
  const tf = txt(645, 1159, 'f) Salinity [g/kg]', TS, 'middle', f.g);
  
  
})();

// ---------- Panel g ----------
(function(){
  const g = mk('g', {});
  
  
  const X = lin(-1.04, 21.94, 852, 1170), D = lin(0, 1000, 1167, 1443);
  const cg = mk('g', {'clip-path':'url(#cpG)'}, g);
  
  
  gArea.forEach((v, i) => {
    const r = mk('rect', {x:852, y:D(gBinEdges[i]), width:Math.max(0, X(v) - 852), height:D(gBinEdges[i+1]) - D(gBinEdges[i]), fill:'#d3d3d3'}, cg);
    
    
  });
  gXTicks.forEach(v => {
    const l = gridLineX(cg, X(v), 1167, 1443);
    
    
    const tk = tickX(g, X(v), 1443);
    
    
    const t = txt(X(v), 1469, String(v), FS, 'middle', g);
    
    
  });
  [200,400,600,800].forEach(v => {
    const l = gridLineY(cg, D(v), 852, 1170);
    
    
  });
  depthTicks.forEach(v => {
    const tk = tickY(g, 852, D(v));
    
    
  });
  gIce.forEach((v, i) => {
    const r = mk('rect', {x:X(0), y:D(gBinEdges[i]), width:X(v) - X(0), height:D(gBinEdges[i+1]) - D(gBinEdges[i]), fill:'none', stroke:'#dc143c', 'stroke-width':2.2}, cg);
    
    
  });
  gInit.forEach((v, i) => {
    const r = mk('rect', {x:X(0), y:D(gBinEdges[i]), width:X(v) - X(0), height:D(gBinEdges[i+1]) - D(gBinEdges[i]), fill:'none', stroke:'#4169e1', 'stroke-width':2.2}, cg);
    
    
  });
  const lg = mk('g', {}, g);
  
  
  mk('rect', {x:1013, y:1403, width:45, height:17, fill:'#d3d3d3'}, lg);
  txt(1075, 1419, 'isf area', FS, 'start', lg);
  const fr = frame(g, 852, 1167, 1170, 1443);
  
  
  const t = txt(1011, 1159, 'g) Ice shelf melt [G/y]', TS, 'middle', g);
  
  
})();

// ---------- Bottom legend ----------
(function(){
  const g = mk('g', {});
  
  
  const a = mk('line', {x1:18, x2:70, y1:1502, y2:1502, stroke:'#dc143c', 'stroke-width':5.5}, g);
  
  
  const at = txt(79, 1510, 'ICE', FS, 'start', g);
  
  
  const b = mk('line', {x1:151, x2:203, y1:1502, y2:1502, stroke:'#4169e1', 'stroke-width':5.5}, g);
  
  
  const bt = txt(213, 1510, 'INIT79', FS, 'start', g);
  
  
})();
</script>
</body></html>
